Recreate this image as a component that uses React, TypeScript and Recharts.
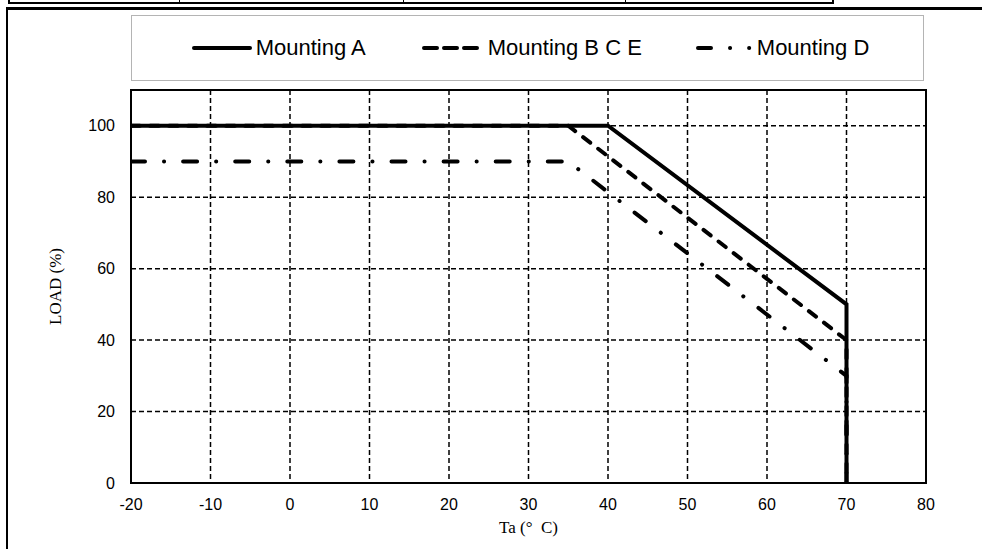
import React from 'react';
import { LineChart, Line, XAxis, YAxis, CartesianGrid, ReferenceArea, Legend } from 'recharts';

// ---- data ----
const tempA = [-20, 40, 70, 70];
const loadA = [100, 100, 50, 0];
const tempBCE = [-20, 35, 70, 70];
const loadBCE = [100, 100, 40, 0];
const tempD = [-20, 35, 70, 70];
const loadD = [90, 90, 30, 0];
const xTicks = [-20, -10, 0, 10, 20, 30, 40, 50, 60, 70, 80];
const yTicks = [0, 20, 40, 60, 80, 100];
const seriesNames = ['Mounting A', 'Mounting B C E', 'Mounting D'];

const zip = (t: number[], l: number[]) => t.map((v, i) => ({ t: v, load: l[i] }));
const dataA = zip(tempA, loadA);
const dataBCE = zip(tempBCE, loadBCE);
const dataD = zip(tempD, loadD);

const tickFont = { fontFamily: 'Liberation Sans, Arial, sans-serif', fontSize: 16, fill: '#000' };
const serif = 'Liberation Serif, Times New Roman, serif';

const LegendBox = () => (
  <div
    style={{
      width: 793,
      height: 66,
      boxSizing: 'border-box',
      border: '1px solid #b4b4b4',
      background: '#fff',
      display: 'flex',
      alignItems: 'center',
      justifyContent: 'center',
      paddingLeft: 6,
      fontFamily: 'Liberation Sans, Arial, sans-serif',
      fontSize: 22,
      color: '#000',
    }}
  >
    <div style={{ display: 'flex', alignItems: 'center' }}>
      <svg width={60} height={10} style={{ marginRight: 4 }}>
        <line x1={2} y1={5} x2={58} y2={5} stroke="#000" strokeWidth={4} strokeLinecap="round" />
      </svg>
      <span>{seriesNames[0]}</span>
    </div>
    <div style={{ display: 'flex', alignItems: 'center', marginLeft: 56 }}>
      <svg width={58} height={10} style={{ marginRight: 8 }}>
        <line x1={2} y1={5} x2={56} y2={5} stroke="#000" strokeWidth={4} strokeLinecap="round" strokeDasharray="13 7" />
      </svg>
      <span>{seriesNames[1]}</span>
    </div>
    <div style={{ display: 'flex', alignItems: 'center', marginLeft: 54 }}>
      <svg width={60} height={10} style={{ marginRight: 1 }}>
        <line x1={2} y1={5} x2={60} y2={5} stroke="#000" strokeWidth={4} strokeLinecap="round" strokeDasharray="13 19 0.1 19 0.1 20" />
      </svg>
      <span>{seriesNames[2]}</span>
    </div>
  </div>
);

export default function App() {
  return (
    <div style={{ position: 'absolute', left: 0, top: 0, width: 982, height: 549, background: '#fff', overflow: 'hidden' }}>
      {/* top table strip */}
      <div style={{ position: 'absolute', left: 8, top: -4, width: 822, height: 6, borderLeft: '2px solid #000', borderRight: '2px solid #000', borderBottom: '2px solid #000' }} />
      {[179, 403, 625].map((x) => (
        <div key={x} style={{ position: 'absolute', left: x, top: 0, width: 1, height: 4, background: '#000' }} />
      ))}
      {/* outer frame */}
      <div style={{ position: 'absolute', left: 6, top: 7, width: 1000, height: 600, borderLeft: '2px solid #000', borderTop: '3px solid #000' }} />
      <div style={{ position: 'absolute', left: 0, top: 0 }}>
        <LineChart width={982} height={549} margin={{ top: 90, right: 56, bottom: 6, left: 51 }}>
          <CartesianGrid stroke="#000" strokeWidth={1.5} strokeDasharray="5 3" />
          <XAxis
            dataKey="t"
            type="number"
            domain={[-20, 80]}
            ticks={xTicks}
            allowDataOverflow
            axisLine={false}
            tickLine={false}
            tickSize={0}
            tickMargin={16}
            height={60}
            tick={tickFont}
            label={{ value: 'Ta (°\u00a0\u00a0C)', position: 'insideBottom', offset: 10, style: { fontFamily: serif, fontSize: 17, fill: '#000' } }}
          />
          <YAxis
            type="number"
            domain={[0, 110]}
            ticks={yTicks}
            allowDataOverflow
            axisLine={false}
            tickLine={false}
            tickSize={0}
            tickMargin={16}
            width={80}
            tick={tickFont}
            label={{ value: 'LOAD (%)', angle: -90, position: 'insideLeft', offset: 4, style: { fontFamily: serif, fontSize: 17, fill: '#000', textAnchor: 'middle' } }}
          />
          <ReferenceArea x1={-20} x2={80} y1={0} y2={110} fill="none" stroke="#000" strokeWidth={2} ifOverflow="visible" />
          <Legend
            layout="horizontal"
            verticalAlign="middle"
            align="center"
            wrapperStyle={{ top: 15, left: 131, width: 793, height: 66 }}
            content={() => <LegendBox />}
          />
          <Line data={dataD} dataKey="load" name={seriesNames[2]} type="linear" stroke="#000" strokeWidth={4} strokeLinecap="round" strokeDasharray="14 19 0.1 19" dot={false} activeDot={false} isAnimationActive={false} />
          <Line data={dataBCE} dataKey="load" name={seriesNames[1]} type="linear" stroke="#000" strokeWidth={4} strokeLinecap="round" strokeDasharray="9 10" dot={false} activeDot={false} isAnimationActive={false} />
          <Line data={dataA} dataKey="load" name={seriesNames[0]} type="linear" stroke="#000" strokeWidth={4} dot={false} activeDot={false} isAnimationActive={false} />
        </LineChart>
      </div>
    </div>
  );
}
